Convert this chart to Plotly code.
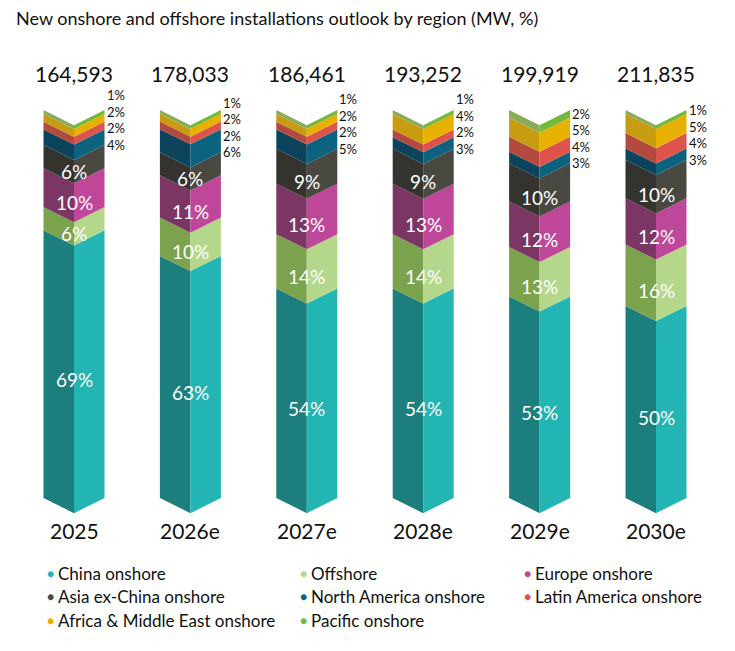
import plotly.graph_objects as go

# ---------------- data ----------------
years = ["2025", "2026e", "2027e", "2028e", "2029e", "2030e"]
totals_mw = [164593, 178033, 186461, 193252, 199919, 211835]

series_names = ["China onshore", "Offshore", "Europe onshore", "Asia ex-China onshore",
                "North America onshore", "Latin America onshore",
                "Africa & Middle East onshore", "Pacific onshore"]
china_onshore = [69, 63, 54, 54, 53, 50]
offshore = [6, 10, 14, 14, 13, 16]
europe_onshore = [10, 11, 13, 13, 12, 12]
asia_ex_china_onshore = [6, 6, 9, 9, 10, 10]
north_america_onshore = [4, 6, 5, 3, 3, 3]
latin_america_onshore = [2, 2, 2, 2, 4, 4]
africa_me_onshore = [2, 2, 2, 4, 5, 5]
pacific_onshore = [1, 1, 1, 1, 2, 1]

series_values = [china_onshore, offshore, europe_onshore, asia_ex_china_onshore,
                 north_america_onshore, latin_america_onshore, africa_me_onshore, pacific_onshore]

# ---------------- style ----------------
right_cols = ["#23b4b4", "#b4d78b", "#bf479a", "#4a4941", "#0c6380", "#dc544c", "#e8b000", "#73b93a"]
left_cols = ["#1d7f7d", "#7ba24c", "#7b3663", "#34332d", "#0b445c", "#b4493f", "#c89c10", "#8aab5a"]
inside_label = [True, True, True, True, False, False, False, False]
FONT = "Lato"
W = 0.262   # half bar width (x units)
D = 3.9     # V dip (y units)
PW, PH = 735, 651

n = len(years)
sums = [sum(s[i] for s in series_values) for i in range(n)]

fig = go.Figure()
annotations = []

cum = [0.0] * n
bounds = []
for si, vals in enumerate(series_values):
    lx, ly, rx, ry = [], [], [], []
    b = []
    for i in range(n):
        h = vals[i] * 100.0 / sums[i]
        c0, c1 = cum[i], cum[i] + h
        b.append((c0, c1))
        lx += [i - W, i, i, i - W, i - W, None]
        ly += [c0, c0 - D, c1 - D, c1, c0, None]
        rx += [i, i + W, i + W, i, i, None]
        ry += [c0 - D, c0, c1, c1 - D, c0 - D, None]
        cum[i] = c1
        if inside_label[si]:
            annotations.append(dict(x=i, y=(c0 + c1) / 2 - D, xref="x", yref="y",
                                    text=f"{vals[i]}%", showarrow=False, yanchor="middle",
                                    font=dict(family=FONT, size=19, color="white")))
    bounds.append(b)
    fig.add_trace(go.Scatter(x=lx, y=ly, fill="toself", fillcolor=left_cols[si], mode="lines",
                             line=dict(width=0, color=left_cols[si]), hoverinfo="skip",
                             name=series_names[si], showlegend=False))
    fig.add_trace(go.Scatter(x=rx, y=ry, fill="toself", fillcolor=right_cols[si], mode="lines",
                             line=dict(width=0, color=right_cols[si]), hoverinfo="skip",
                             name=series_names[si], showlegend=False))

# small labels to the right, stacked upward from the North America segment
for i in range(n):
    base_y = bounds[4][i][0]
    for k, si in enumerate([4, 5, 6, 7]):
        annotations.append(dict(x=i + W, y=base_y, xref="x", yref="y", xanchor="left",
                                yanchor="middle", xshift=1, yshift=16.5 * k, borderpad=0,
                                text=f"{series_values[si][i]}%", showarrow=False,
                                font=dict(family=FONT, size=13, color="#111111")))
    annotations.append(dict(x=i, y=1 - 73 / PH, xref="x", yref="paper", yanchor="middle",
                            text=f"{totals_mw[i]:,}", showarrow=False,
                            font=dict(family=FONT, size=21, color="#111111")))
    annotations.append(dict(x=i, y=1 - 530 / PH, xref="x", yref="paper", yanchor="middle",
                            text=years[i], showarrow=False,
                            font=dict(family=FONT, size=21, color="#111111")))

annotations.append(dict(x=14 / PW, y=1 - 18 / PH, xref="paper", yref="paper", xanchor="left",
                        yanchor="middle",
                        text="New onshore and offshore installations outlook by region (MW, %)",
                        showarrow=False, font=dict(family=FONT, size=18, color="#111111")))

# legend (3 columns, row-major)
leg_dot_x = [50, 303, 527]
leg_row_y = [573, 596.5, 620]
for si, name in enumerate(series_names):
    r, c = divmod(si, 3)
    yy = 1 - leg_row_y[r] / PH
    annotations.append(dict(x=leg_dot_x[c] / PW, y=yy, xref="paper", yref="paper",
                            xanchor="center", yanchor="middle", text="●", showarrow=False,
                            font=dict(family=FONT, size=12, color=right_cols[si])))
    annotations.append(dict(x=(leg_dot_x[c] + 6) / PW, y=yy, xref="paper", yref="paper",
                            xanchor="left", yanchor="middle", text=name, showarrow=False,
                            font=dict(family=FONT, size=17, color="#111111")))

fig.update_layout(
    width=PW, height=PH,
    margin=dict(l=0, r=0, t=0, b=0),
    paper_bgcolor="white", plot_bgcolor="white",
    xaxis=dict(range=[-74 / 116.4, (PW - 74) / 116.4], visible=False, fixedrange=True),
    yaxis=dict(range=[-(PH - 498) / 3.88, 100 + 110 / 3.88], visible=False, fixedrange=True),
    annotations=annotations,
    showlegend=False,
)

fig.write_html("out.html")
